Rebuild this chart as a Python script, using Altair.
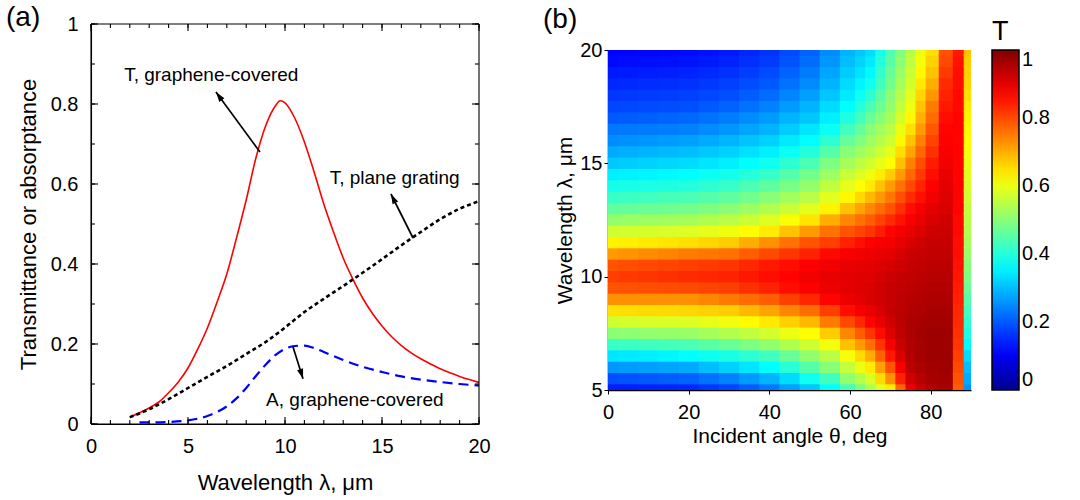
import math
import altair as alt
import pandas as pd

FONT = "Liberation Sans"

# ---------------- (a) spectra ----------------
WL_T = [2, 2.5, 3, 3.5, 4, 4.5, 5, 5.5, 6, 6.5, 7, 7.5, 8, 8.5, 9, 9.5, 9.75, 10,
        10.5, 11, 11.5, 12, 12.5, 13, 13.5, 14, 14.5, 15, 15.5, 16, 16.5, 17, 17.5,
        18, 18.5, 19, 19.5, 20]
T_GRAPHENE = [0.017, 0.028, 0.04, 0.055, 0.078, 0.105, 0.14, 0.187, 0.24, 0.305,
              0.375, 0.465, 0.56, 0.665, 0.745, 0.795, 0.808, 0.803, 0.765, 0.705,
              0.63, 0.55, 0.48, 0.415, 0.362, 0.315, 0.277, 0.245, 0.218, 0.196,
              0.178, 0.163, 0.15, 0.138, 0.128, 0.119, 0.111, 0.104]

WL_G = [2, 3, 4, 5, 6, 7, 8, 9, 10, 11, 12, 13, 14, 15, 16, 17, 18, 19, 20]
T_GRATING = [0.017, 0.037, 0.062, 0.09, 0.118, 0.145, 0.175, 0.205, 0.241, 0.28,
             0.313, 0.345, 0.378, 0.412, 0.447, 0.48, 0.512, 0.538, 0.557]

WL_A = [2.5, 3, 4, 5, 6, 6.5, 7, 7.5, 8, 8.5, 9, 9.5, 10, 10.5, 11, 11.5, 12, 13,
        14, 15, 16, 17, 18, 19, 20]
A_GRAPHENE = [0.004, 0.004, 0.005, 0.009, 0.02, 0.03, 0.044, 0.064, 0.09, 0.12,
              0.148, 0.172, 0.188, 0.195, 0.196, 0.19, 0.18, 0.16, 0.143, 0.13,
              0.119, 0.111, 0.105, 0.1, 0.096]

NOTE_TEXT = ["T, graphene-covered", "T, plane grating", "A, graphene-covered"]
NOTE_WL = [6.2, 15.65, 13.6]
NOTE_Y = [0.857, 0.60, 0.045]

ARROW_FROM_WL = [8.71, 16.6, 10.41]
ARROW_FROM_Y = [0.68, 0.465, 0.193]
ARROW_TO_WL = [6.44, 15.46, 10.93]
ARROW_TO_Y = [0.83, 0.575, 0.113]

# ---------------- (b) angular transmittance map ----------------
ANGLES = [0, 5, 10, 15, 20, 25, 30, 35, 40, 45, 50, 55, 60, 62.5, 65, 67.5, 70,
          72.5, 75, 77.5, 80, 84, 87, 89.4]
WL_MAP = [5.0, 5.5, 6.0, 6.5, 7.0, 7.5, 8.0, 8.5, 9.0, 9.5, 10.0, 10.5, 11.0, 11.5,
          12.0, 12.5, 13.0, 13.5, 14.0, 14.5, 15.0, 15.5, 16.0, 16.5, 17.0, 17.5,
          18.0, 18.5, 19.0, 19.5, 20.0]

T_00 = [0.14, 0.19, 0.26, 0.34, 0.42, 0.50, 0.57, 0.65, 0.73, 0.79,
        0.81, 0.79, 0.72, 0.63, 0.57, 0.51, 0.46, 0.42, 0.385, 0.35,
        0.31, 0.28, 0.25, 0.23, 0.20, 0.18, 0.165, 0.15, 0.135, 0.12, 0.11]
T_05 = [0.142, 0.195, 0.265, 0.345, 0.425, 0.505, 0.575, 0.652, 0.73, 0.792,
        0.815, 0.795, 0.727, 0.635, 0.574, 0.515, 0.465, 0.425, 0.388, 0.353,
        0.315, 0.285, 0.255, 0.232, 0.203, 0.182, 0.167, 0.152, 0.137, 0.122, 0.112]
T_10 = [0.145, 0.20, 0.27, 0.35, 0.43, 0.51, 0.58, 0.655, 0.73, 0.795,
        0.82, 0.80, 0.735, 0.64, 0.578, 0.52, 0.47, 0.43, 0.392, 0.357,
        0.32, 0.29, 0.26, 0.235, 0.207, 0.185, 0.17, 0.155, 0.14, 0.125, 0.115]
T_15 = [0.147, 0.205, 0.275, 0.357, 0.435, 0.512, 0.582, 0.657, 0.73, 0.797,
        0.825, 0.805, 0.742, 0.645, 0.58, 0.525, 0.475, 0.435, 0.396, 0.361,
        0.325, 0.295, 0.265, 0.237, 0.211, 0.187, 0.172, 0.157, 0.142, 0.127, 0.117]
T_20 = [0.15, 0.21, 0.28, 0.365, 0.44, 0.515, 0.585, 0.66, 0.73, 0.80,
        0.83, 0.81, 0.75, 0.65, 0.585, 0.53, 0.48, 0.44, 0.40, 0.365,
        0.33, 0.30, 0.27, 0.24, 0.215, 0.19, 0.175, 0.16, 0.145, 0.13, 0.12]
T_25 = [0.165, 0.225, 0.30, 0.378, 0.455, 0.528, 0.595, 0.665, 0.74, 0.805,
        0.835, 0.815, 0.755, 0.66, 0.595, 0.54, 0.49, 0.45, 0.41, 0.375,
        0.34, 0.31, 0.28, 0.25, 0.225, 0.20, 0.182, 0.167, 0.152, 0.137, 0.127]
T_30 = [0.18, 0.24, 0.32, 0.39, 0.47, 0.54, 0.605, 0.67, 0.75, 0.81,
        0.84, 0.82, 0.76, 0.67, 0.605, 0.55, 0.50, 0.46, 0.42, 0.385,
        0.35, 0.32, 0.29, 0.26, 0.235, 0.21, 0.19, 0.175, 0.16, 0.145, 0.135]
T_35 = [0.205, 0.265, 0.34, 0.41, 0.49, 0.557, 0.622, 0.69, 0.765, 0.825,
        0.85, 0.835, 0.78, 0.70, 0.622, 0.567, 0.52, 0.48, 0.44, 0.402,
        0.365, 0.335, 0.305, 0.275, 0.25, 0.225, 0.205, 0.188, 0.172, 0.158, 0.148]
T_40 = [0.23, 0.29, 0.365, 0.43, 0.51, 0.575, 0.64, 0.71, 0.78, 0.84,
        0.86, 0.85, 0.80, 0.73, 0.64, 0.585, 0.54, 0.50, 0.46, 0.42,
        0.38, 0.35, 0.32, 0.29, 0.265, 0.24, 0.22, 0.20, 0.185, 0.17, 0.16]
T_45 = [0.27, 0.33, 0.405, 0.47, 0.54, 0.60, 0.665, 0.74, 0.81, 0.86,
        0.87, 0.86, 0.82, 0.76, 0.68, 0.615, 0.565, 0.525, 0.485, 0.45,
        0.41, 0.375, 0.345, 0.315, 0.29, 0.265, 0.245, 0.225, 0.21, 0.195, 0.185]
T_50 = [0.31, 0.38, 0.45, 0.51, 0.57, 0.62, 0.69, 0.765, 0.835, 0.875,
        0.885, 0.875, 0.84, 0.79, 0.72, 0.645, 0.59, 0.55, 0.51, 0.48,
        0.44, 0.40, 0.365, 0.34, 0.31, 0.29, 0.27, 0.25, 0.235, 0.22, 0.21]
T_55 = [0.365, 0.43, 0.50, 0.55, 0.61, 0.67, 0.75, 0.81, 0.87, 0.89,
        0.895, 0.885, 0.865, 0.81, 0.76, 0.70, 0.63, 0.59, 0.555, 0.52,
        0.49, 0.45, 0.41, 0.375, 0.35, 0.33, 0.31, 0.29, 0.275, 0.26, 0.25]
T_60 = [0.44, 0.51, 0.56, 0.61, 0.68, 0.74, 0.80, 0.86, 0.89, 0.90,
        0.90, 0.895, 0.88, 0.84, 0.79, 0.74, 0.68, 0.625, 0.595, 0.565,
        0.53, 0.50, 0.465, 0.43, 0.395, 0.365, 0.345, 0.33, 0.315, 0.30, 0.29]
T_62 = [0.49, 0.545, 0.60, 0.655, 0.72, 0.78, 0.835, 0.88, 0.90, 0.905,
        0.903, 0.898, 0.885, 0.858, 0.805, 0.76, 0.71, 0.657, 0.617, 0.585,
        0.552, 0.522, 0.492, 0.465, 0.432, 0.402, 0.377, 0.355, 0.337, 0.322, 0.31]
T_65 = [0.54, 0.58, 0.64, 0.70, 0.76, 0.82, 0.87, 0.895, 0.91, 0.91,
        0.905, 0.90, 0.89, 0.875, 0.82, 0.78, 0.74, 0.69, 0.64, 0.605,
        0.575, 0.545, 0.52, 0.50, 0.47, 0.44, 0.41, 0.38, 0.36, 0.345, 0.33]
T_67 = [0.59, 0.655, 0.715, 0.775, 0.82, 0.862, 0.895, 0.912, 0.92, 0.92,
        0.915, 0.908, 0.895, 0.88, 0.845, 0.805, 0.765, 0.722, 0.68, 0.637,
        0.597, 0.57, 0.545, 0.525, 0.50, 0.475, 0.455, 0.43, 0.415, 0.40, 0.385]
T_70 = [0.64, 0.73, 0.79, 0.85, 0.88, 0.905, 0.92, 0.93, 0.93, 0.93,
        0.925, 0.915, 0.90, 0.885, 0.87, 0.83, 0.79, 0.755, 0.72, 0.67,
        0.62, 0.595, 0.57, 0.55, 0.53, 0.51, 0.50, 0.48, 0.47, 0.455, 0.44]
T_72 = [0.77, 0.84, 0.88, 0.91, 0.925, 0.935, 0.94, 0.94, 0.938, 0.935,
        0.93, 0.922, 0.912, 0.898, 0.883, 0.855, 0.825, 0.793, 0.76, 0.72,
        0.682, 0.652, 0.625, 0.60, 0.578, 0.558, 0.545, 0.528, 0.518, 0.505, 0.493]
T_75 = [0.89, 0.92, 0.94, 0.95, 0.95, 0.955, 0.955, 0.95, 0.945, 0.94,
        0.935, 0.93, 0.925, 0.91, 0.895, 0.88, 0.86, 0.83, 0.80, 0.77,
        0.745, 0.71, 0.68, 0.65, 0.625, 0.605, 0.59, 0.575, 0.565, 0.555, 0.545]
T_77 = [0.925, 0.945, 0.955, 0.962, 0.962, 0.965, 0.962, 0.955, 0.95, 0.945,
        0.94, 0.935, 0.93, 0.92, 0.908, 0.895, 0.88, 0.858, 0.838, 0.815,
        0.795, 0.77, 0.745, 0.72, 0.698, 0.68, 0.66, 0.64, 0.625, 0.61, 0.60]
T_80 = [0.95, 0.96, 0.965, 0.97, 0.97, 0.97, 0.965, 0.96, 0.955, 0.95,
        0.945, 0.94, 0.935, 0.93, 0.92, 0.91, 0.90, 0.885, 0.875, 0.86,
        0.845, 0.825, 0.805, 0.785, 0.765, 0.75, 0.725, 0.70, 0.68, 0.665, 0.65]
T_84 = [0.96, 0.965, 0.97, 0.97, 0.97, 0.97, 0.965, 0.96, 0.955, 0.95,
        0.945, 0.94, 0.935, 0.93, 0.925, 0.92, 0.91, 0.905, 0.90, 0.895,
        0.885, 0.88, 0.875, 0.87, 0.86, 0.85, 0.84, 0.83, 0.815, 0.80, 0.79]
T_87 = [0.78, 0.79, 0.80, 0.81, 0.82, 0.825, 0.83, 0.835, 0.84, 0.845,
        0.85, 0.855, 0.86, 0.86, 0.865, 0.865, 0.87, 0.87, 0.87, 0.87,
        0.87, 0.87, 0.87, 0.87, 0.87, 0.865, 0.865, 0.86, 0.86, 0.855, 0.85]
T_89 = [0.26, 0.28, 0.30, 0.33, 0.36, 0.39, 0.41, 0.43, 0.45, 0.47,
        0.49, 0.50, 0.515, 0.53, 0.54, 0.55, 0.56, 0.57, 0.58, 0.59,
        0.60, 0.61, 0.62, 0.625, 0.63, 0.64, 0.65, 0.66, 0.665, 0.67, 0.68]
T_COLUMNS = [T_00, T_05, T_10, T_15, T_20, T_25, T_30, T_35, T_40, T_45, T_50,
             T_55, T_60, T_62, T_65, T_67, T_70, T_72, T_75, T_77, T_80, T_84,
             T_87, T_89]

CBAR_TICKS = [0, 0.2, 0.4, 0.6, 0.8, 1]

# MATLAB-style jet colour map
JET_STOPS = [0, 0.111, 0.365, 0.619, 0.873, 1]
JET_COLORS = ["#00008f", "#0000ff", "#00ffff", "#ffff00", "#ff0000", "#800000"]

# ---------------- sizes ----------------
A_W, A_H = 388, 400
B_W, B_H, B_TOP = 363, 366, 26
B_X0 = 517  # left edge of panel (b) relative to panel (a)

# ================= panel (a) =================
X_LIM = [0, 20]
Y_LIM = [0, 1]
xs = alt.Scale(domain=X_LIM, nice=False, zero=False)
ys = alt.Scale(domain=Y_LIM, nice=False, zero=False)
px_x = A_W / (X_LIM[1] - X_LIM[0])
px_y = A_H / (Y_LIM[1] - Y_LIM[0])

df_t = pd.DataFrame({"wl": WL_T, "v": T_GRAPHENE})
df_g = pd.DataFrame({"wl": WL_G, "v": T_GRATING})
df_a = pd.DataFrame({"wl": WL_A, "v": A_GRAPHENE})
df_note = pd.DataFrame({"wl": NOTE_WL, "v": NOTE_Y, "label": NOTE_TEXT})

# arrow shafts and heads (heads rotated along the shaft direction on screen)
HEAD_PATH = "M0,-1L0.6,0.9L-0.6,0.9Z"
HEAD_SIZE = 110
head_r = math.sqrt(HEAD_SIZE) / 2
rows = []
for w0, y0, w1, y1 in zip(ARROW_FROM_WL, ARROW_FROM_Y, ARROW_TO_WL, ARROW_TO_Y):
    dxp = (w1 - w0) * px_x
    dyp = -(y1 - y0) * px_y
    length = math.hypot(dxp, dyp)
    ux, uy = dxp / length, dyp / length
    ang = math.degrees(math.atan2(dxp, -dyp)) % 360
    hx = w1 - ux * head_r / px_x
    hy = y1 + uy * head_r / px_y
    rows.append({"w0": w0, "y0": y0, "w1": w1, "y1": y1, "hx": hx, "hy": hy, "ang": ang})
df_arrow = pd.DataFrame(rows)

MAJOR_X = [0, 5, 10, 15, 20]
MINOR_X = list(range(0, 21))
MAJOR_Y = [0, 0.2, 0.4, 0.6, 0.8, 1]
MINOR_Y = [i / 10 for i in range(0, 11)]

# frame and inward ticks on all four sides: each piece is a two-point polyline
pieces = [
    (X_LIM[0], Y_LIM[1], X_LIM[1], Y_LIM[1]),
    (X_LIM[1], Y_LIM[0], X_LIM[1], Y_LIM[1]),
    (X_LIM[0], Y_LIM[0], X_LIM[1], Y_LIM[0]),
    (X_LIM[0], Y_LIM[0], X_LIM[0], Y_LIM[1]),
]
for values, size in ((MINOR_X, 4), (MAJOR_X, 7)):
    for p in values:
        pieces.append((p, Y_LIM[0], p, Y_LIM[0] + size / px_y))
        pieces.append((p, Y_LIM[1], p, Y_LIM[1] - size / px_y))
for values, size in ((MINOR_Y, 4), (MAJOR_Y, 7)):
    for q in values:
        pieces.append((X_LIM[0], q, X_LIM[0] + size / px_x, q))
        pieces.append((X_LIM[1], q, X_LIM[1] - size / px_x, q))
frame_rows = []
for k, (fx0, fy0, fx1, fy1) in enumerate(pieces):
    frame_rows.append({"piece": k, "k": 0, "fx": fx0, "fy": fy0})
    frame_rows.append({"piece": k, "k": 1, "fx": fx1, "fy": fy1})
df_frame = pd.DataFrame(frame_rows)

# one axis definition per direction, shared by every layer so they merge cleanly
ax_x = alt.Axis(orient="bottom", values=MAJOR_X, ticks=False, domain=True,
                domainColor="black", domainWidth=1.1, grid=False,
                labelFlush=False, labelFontSize=20, labelPadding=12,
                title="Wavelength λ, μm", titleFontSize=22, titlePadding=16)
ax_y = alt.Axis(orient="left", values=MAJOR_Y, format="~g", ticks=False, domain=True,
                domainColor="black", domainWidth=1.1, grid=False,
                labelFontSize=20, labelPadding=13,
                title="Transmittance or absorptance", titleFontSize=22, titlePadding=10)


def X(field):
    return alt.X(field, type="quantitative", scale=xs, axis=ax_x)


def Y(field):
    return alt.Y(field, type="quantitative", scale=ys, axis=ax_y)


frame_ticks = alt.Chart(df_frame).mark_line(color="black", strokeWidth=1.1).encode(
    x=X("fx"), y=Y("fy"), detail="piece:N", order="k:Q",
)


def curve(df, **mark):
    return alt.Chart(df).mark_line(interpolate="monotone", **mark).encode(
        x=X("wl"), y=Y("v"),
    )


red = curve(df_t, color="#ff0000", strokeWidth=1.6)
black = curve(df_g, color="black", strokeWidth=2.6, strokeDash=[4, 3])
blue = curve(df_a, color="#0000ff", strokeWidth=2.2, strokeDash=[10, 6])

shafts = alt.Chart(df_arrow).mark_rule(color="black", strokeWidth=1.7).encode(
    x=X("w0"), y=Y("y0"), x2="w1:Q", y2="y1:Q",
)
heads = alt.Chart(df_arrow).mark_point(shape=HEAD_PATH, filled=True, color="black",
                                       opacity=1, size=HEAD_SIZE).encode(
    x=X("hx"), y=Y("hy"),
    angle=alt.Angle("ang:Q", scale=None),
)
notes = alt.Chart(df_note).mark_text(fontSize=19, font=FONT, color="black",
                                     align="center", baseline="alphabetic").encode(
    x=X("wl"), y=Y("v"), text="label:N",
)

panel_a = alt.layer(
    red, black, blue, shafts, heads, notes, frame_ticks,
).properties(
    width=A_W, height=A_H,
    title=alt.TitleParams("(a)", anchor="start", frame="group", fontSize=28,
                          fontWeight="normal", baseline="top", offset=0, dx=-85, dy=18),
)

# ================= panel (b) =================
a_edges = [0.0] + [(ANGLES[i] + ANGLES[i + 1]) / 2 for i in range(len(ANGLES) - 1)] + [90.0]
w_edges = [5.0] + [(WL_MAP[j] + WL_MAP[j + 1]) / 2 for j in range(len(WL_MAP) - 1)] + [20.0]
# each cell reaches a hair past its neighbour so no hairline seams show
A_OVER, W_OVER = 0.3, 0.06
cells = []
for i, col in enumerate(T_COLUMNS):
    for j, t in enumerate(col):
        cells.append({"a0": a_edges[i], "a1": min(a_edges[i + 1] + A_OVER, 90.0),
                      "w0": w_edges[j], "w1": min(w_edges[j + 1] + W_OVER, 20.0),
                      "t": t})
df_map = pd.DataFrame(cells)

jet = alt.Scale(domain=JET_STOPS, range=JET_COLORS, interpolate="rgb")

ax_bx = alt.Axis(orient="bottom", values=[0, 20, 40, 60, 80], labelFlush=False,
                 tickSize=4, tickColor="black", domainColor="black", domainWidth=1.5,
                 grid=False, labelFontSize=20, labelPadding=8,
                 title="Incident angle θ, deg", titleFontSize=21, titlePadding=3)
ax_by = alt.Axis(orient="left", values=[5, 10, 15, 20], tickSize=4, tickColor="black",
                 domainColor="black", domainWidth=1.5, grid=False, labelFontSize=20,
                 labelPadding=2, title="Wavelength λ, μm", titleFontSize=21,
                 titlePadding=4)

# colour bar sits in the shared top-level legend area, so it is placed from panel (a)'s origin
cbar = alt.Legend(type="gradient", orient="none", legendX=B_X0 + B_W + 21, legendY=-5,
                  direction="vertical", gradientLength=340, gradientThickness=27,
                  gradientStrokeColor="black", gradientStrokeWidth=1.5,
                  values=CBAR_TICKS, format="~g", labelFontSize=20, labelOffset=3,
                  labelColor="black", title="\u00a0T", titleFontSize=27,
                  titleFontWeight="normal", titleColor="black", titlePadding=4)

panel_b = alt.Chart(df_map).mark_rect().encode(
    x=alt.X("a0:Q", scale=alt.Scale(domain=[0, 90], nice=False, zero=False), axis=ax_bx),
    x2="a1:Q",
    y=alt.Y("w0:Q", scale=alt.Scale(domain=[5, 20], nice=False, zero=False,
                                    range=[B_H, B_TOP]), axis=ax_by),
    y2="w1:Q",
    color=alt.Color("t:Q", scale=jet, legend=cbar),
).properties(
    width=B_W, height=B_H,
    title=alt.TitleParams("(b)", anchor="start", frame="group", fontSize=28,
                          fontWeight="normal", baseline="top", offset=0, dx=-65, dy=10),
)

chart = alt.hconcat(panel_a, panel_b, spacing=B_X0 - A_W, bounds="flush").properties(
    padding={"left": 6, "top": 4, "right": 10, "bottom": 5},
    background="white",
).configure(font=FONT).configure_view(stroke=None).configure_axis(
    labelColor="black", titleColor="black", titleFontWeight="normal",
    labelFont=FONT, titleFont=FONT,
).configure_title(color="black", font=FONT)

chart.save("out.html", embed_options={"renderer": "svg", "actions": False})
